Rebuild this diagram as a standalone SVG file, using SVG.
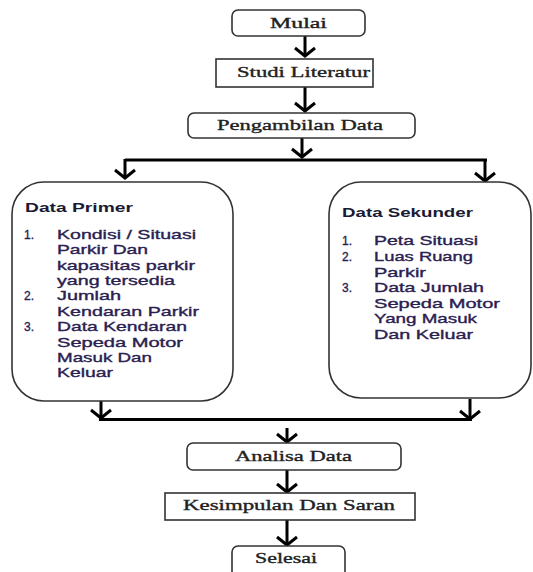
<svg xmlns="http://www.w3.org/2000/svg" width="533" height="572" viewBox="0 0 533 572">
<defs>
<marker id="chev" markerUnits="userSpaceOnUse" markerWidth="30" markerHeight="30" refX="0" refY="0" orient="auto" overflow="visible">
<path d="M-8,-10 L0,0 L-8,10" fill="none" stroke="#000" stroke-width="3" stroke-linejoin="miter"/>
</marker>
<style>
.box{fill:#fff;stroke:#333;stroke-width:1.6}
.lbl{font-family:"Liberation Serif","Times New Roman",serif;font-size:15px;fill:#222;stroke:#222;stroke-width:0.35}
.t{font-family:"Liberation Sans",Arial,sans-serif;font-size:13px;fill:#1a1a33;font-weight:bold}
.li{font-family:"Liberation Sans",Arial,sans-serif;font-size:13px;fill:#2a2050;stroke:#2a2050;stroke-width:0.35}
.c{fill:none;stroke:#000;stroke-width:3}
.ca{fill:none;stroke:#000;stroke-width:3;marker-end:url(#chev)}
</style>
</defs>
<rect width="533" height="572" fill="#fff"/>
<g id="connectors">
<path class="ca" d="M305,36 V56"/>
<path class="ca" d="M305,87 V111"/>
<path class="ca" d="M302,138 V157"/>
<path class="c" d="M125,160 H487"/>
<path class="ca" d="M125,159 V178"/>
<path class="ca" d="M485,159 V181"/>
<path class="ca" d="M101,398 V418"/>
<path class="ca" d="M470,399 V419"/>
<path class="c" d="M99,419.5 H472"/>
<path class="ca" d="M287,428 V442"/>
<path class="ca" d="M287,470 V492"/>
<path class="ca" d="M287,520 V545"/>
</g>
<g id="mulai">
<rect class="box" x="232" y="10" width="133" height="26" rx="6"/>
<text class="lbl" x="270" y="28" textLength="57" lengthAdjust="spacingAndGlyphs">Mulai</text>
</g>
<g id="studi">
<rect class="box" x="216" y="59" width="157" height="28"/>
<text class="lbl" x="237" y="77" textLength="133" lengthAdjust="spacingAndGlyphs">Studi Literatur</text>
</g>
<g id="pengambilan">
<rect class="box" x="188" y="113" width="227" height="25" rx="6"/>
<text class="lbl" x="217" y="130" textLength="166" lengthAdjust="spacingAndGlyphs">Pengambilan Data</text>
</g>
<g id="primer">
<rect class="box" x="12" y="182" width="221" height="219" rx="32"/>
<text class="t" x="25" y="212" textLength="108" lengthAdjust="spacingAndGlyphs">Data Primer</text>
<text class="li" x="24" y="239" textLength="10" lengthAdjust="spacingAndGlyphs">1.</text>
<text class="li" x="57" y="239" textLength="139" lengthAdjust="spacingAndGlyphs">Kondisi / Situasi</text>
<text class="li" x="57" y="254" textLength="91" lengthAdjust="spacingAndGlyphs">Parkir Dan</text>
<text class="li" x="57" y="269.5" textLength="138" lengthAdjust="spacingAndGlyphs">kapasitas parkir</text>
<text class="li" x="57" y="284.5" textLength="118" lengthAdjust="spacingAndGlyphs">yang tersedia</text>
<text class="li" x="24" y="300" textLength="10" lengthAdjust="spacingAndGlyphs">2.</text>
<text class="li" x="57" y="300" textLength="64" lengthAdjust="spacingAndGlyphs">Jumlah</text>
<text class="li" x="57" y="315.5" textLength="142" lengthAdjust="spacingAndGlyphs">Kendaran Parkir</text>
<text class="li" x="24" y="331" textLength="10" lengthAdjust="spacingAndGlyphs">3.</text>
<text class="li" x="57" y="331" textLength="130" lengthAdjust="spacingAndGlyphs">Data Kendaran</text>
<text class="li" x="57" y="346.5" textLength="126" lengthAdjust="spacingAndGlyphs">Sepeda Motor</text>
<text class="li" x="57" y="362" textLength="95" lengthAdjust="spacingAndGlyphs">Masuk Dan</text>
<text class="li" x="57" y="377" textLength="56" lengthAdjust="spacingAndGlyphs">Keluar</text>
</g>
<g id="sekunder">
<rect class="box" x="329" y="182" width="202" height="216" rx="32"/>
<text class="t" x="342" y="217" textLength="131" lengthAdjust="spacingAndGlyphs">Data Sekunder</text>
<text class="li" x="342" y="245" textLength="10" lengthAdjust="spacingAndGlyphs">1.</text>
<text class="li" x="374" y="245" textLength="104" lengthAdjust="spacingAndGlyphs">Peta Situasi</text>
<text class="li" x="342" y="261" textLength="10" lengthAdjust="spacingAndGlyphs">2.</text>
<text class="li" x="374" y="261" textLength="99" lengthAdjust="spacingAndGlyphs">Luas Ruang</text>
<text class="li" x="374" y="276.5" textLength="52" lengthAdjust="spacingAndGlyphs">Parkir</text>
<text class="li" x="342" y="292" textLength="10" lengthAdjust="spacingAndGlyphs">3.</text>
<text class="li" x="374" y="292" textLength="110" lengthAdjust="spacingAndGlyphs">Data Jumlah</text>
<text class="li" x="374" y="307.5" textLength="126" lengthAdjust="spacingAndGlyphs">Sepeda Motor</text>
<text class="li" x="374" y="323" textLength="103" lengthAdjust="spacingAndGlyphs">Yang Masuk</text>
<text class="li" x="374" y="338.5" textLength="99" lengthAdjust="spacingAndGlyphs">Dan Keluar</text>
</g>
<g id="analisa">
<rect class="box" x="187" y="443" width="214" height="27" rx="6"/>
<text class="lbl" x="235" y="461" textLength="117" lengthAdjust="spacingAndGlyphs">Analisa Data</text>
</g>
<g id="kesimpulan">
<rect class="box" x="165" y="493" width="250" height="27"/>
<text class="lbl" x="183" y="510" textLength="212" lengthAdjust="spacingAndGlyphs">Kesimpulan Dan Saran</text>
</g>
<g id="selesai">
<rect class="box" x="232" y="546" width="113" height="40" rx="6"/>
<text class="lbl" x="255" y="563" textLength="62" lengthAdjust="spacingAndGlyphs">Selesai</text>
</g>
</svg>
